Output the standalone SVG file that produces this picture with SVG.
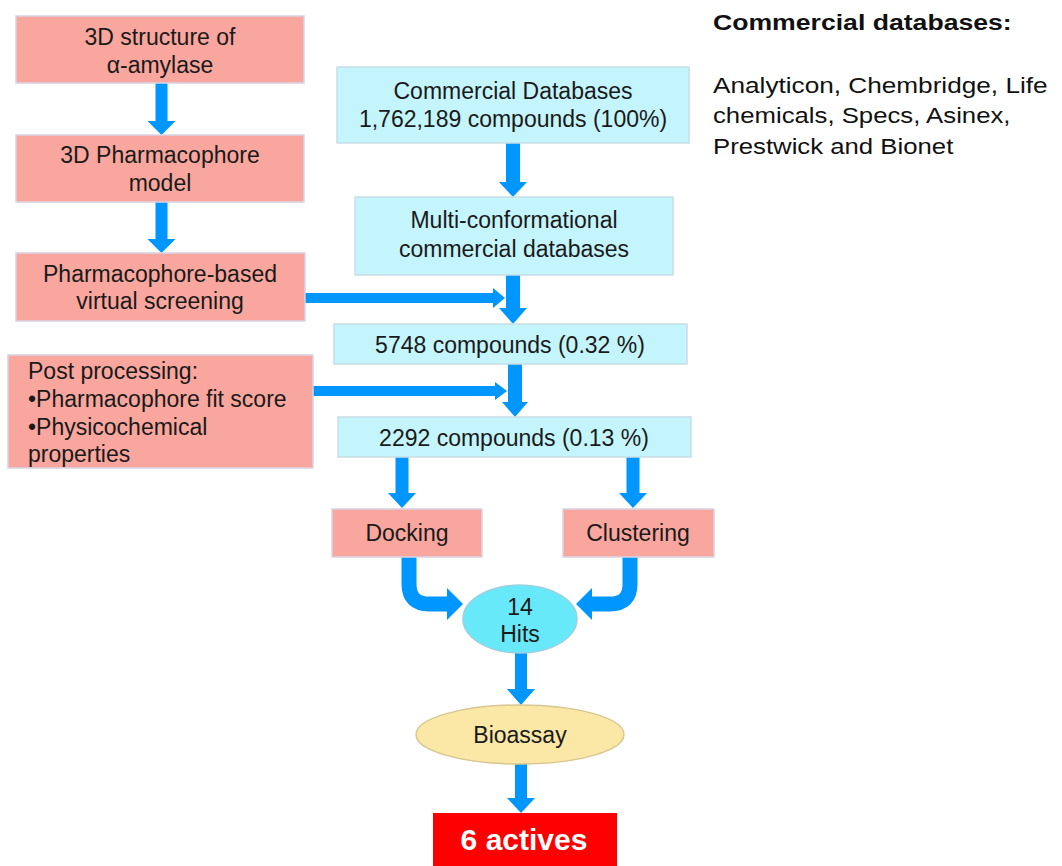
<svg xmlns="http://www.w3.org/2000/svg" width="1062" height="866" viewBox="0 0 1062 866">
<style>
.pink{fill:#F9A69E;stroke:#D8D4E4;stroke-width:1.5}
.blue{fill:#C4F4FC;stroke:#C8DDE6;stroke-width:1.5}
.t{font-family:"Liberation Sans",Arial,sans-serif;font-size:23px;fill:#1a1a1a}
.c{text-anchor:middle}
.arr{fill:#0096FF}
.curve{fill:none;stroke:#0096FF;stroke-width:15}
.lg{font-family:"Liberation Sans",Arial,sans-serif;font-size:22px;fill:#111}
</style>
<rect width="1062" height="866" fill="#ffffff"/>
<g id="connectors">
<polygon class="arr" points="155.5,83 167.5,83 167.5,121 175.5,121 161.5,135 147.5,121 155.5,121"/>
<polygon class="arr" points="155.5,202 167.5,202 167.5,239 175.5,239 161.5,253 147.5,239 155.5,239"/>
<polygon class="arr" points="506,143 520,143 520,182 527,182 513,197 499,182 506,182"/>
<polygon class="arr" points="506,275 520,275 520,308 527,308 513,324 499,308 506,308"/>
<polygon class="arr" points="305,293 493,293 493,288 505,298 493,308 493,303 305,303"/>
<polygon class="arr" points="508,364 522,364 522,402 528,402 515,417 502,402 508,402"/>
<polygon class="arr" points="313,386 495,386 495,382 507,391 495,400 495,396 313,396"/>
<polygon class="arr" points="395.5,457 408.5,457 408.5,493 416,493 402,508 388,493 395.5,493"/>
<polygon class="arr" points="626.5,457 639.5,457 639.5,493 647,493 633,508 619,493 626.5,493"/>
<path class="curve" d="M409,557 V584 Q409,604 429,604 H449"/>
<polygon class="arr" points="447,588 463,604 447,620"/>
<path class="curve" d="M630,557 V584 Q630,604 610,604 H590"/>
<polygon class="arr" points="592,588 576,604 592,620"/>
<polygon class="arr" points="515,653 527,653 527,689 535,689 521,705 507,689 515,689"/>
<polygon class="arr" points="515,764 527,764 527,798 535,798 521,813 507,798 515,798"/>
</g>
<g id="n-structure">
<rect class="pink" x="16" y="16" width="288" height="67"/>
<text class="t c" x="160" y="45">3D structure of</text>
<text class="t c" x="160" y="73">α-amylase</text>
</g>
<g id="n-pharmacophore">
<rect class="pink" x="16" y="135" width="288" height="67"/>
<text class="t c" x="160" y="163">3D Pharmacophore</text>
<text class="t c" x="160" y="191">model</text>
</g>
<g id="n-screening">
<rect class="pink" x="16" y="253" width="289" height="68"/>
<text class="t c" x="160" y="282">Pharmacophore-based</text>
<text class="t c" x="160" y="309">virtual screening</text>
</g>
<g id="n-commercial">
<rect class="blue" x="337" y="67" width="352" height="76"/>
<text class="t c" x="513" y="99">Commercial Databases</text>
<text class="t c" x="513" y="127">1,762,189 compounds (100%)</text>
</g>
<g id="n-multi">
<rect class="blue" x="355" y="197" width="318" height="78"/>
<text class="t c" x="514" y="228">Multi-conformational</text>
<text class="t c" x="514" y="257">commercial databases</text>
</g>
<g id="n-5748">
<rect class="blue" x="334" y="324" width="353" height="40"/>
<text class="t c" x="510" y="353">5748 compounds (0.32 %)</text>
</g>
<g id="n-post">
<rect class="pink" x="8" y="355" width="305" height="113"/>
<text class="t" x="28" y="379">Post processing:</text>
<text class="t" x="28" y="407">•Pharmacophore fit score</text>
<text class="t" x="28" y="435">•Physicochemical</text>
<text class="t" x="28" y="462">properties</text>
</g>
<g id="n-2292">
<rect class="blue" x="338" y="417" width="353" height="40"/>
<text class="t c" x="514" y="446">2292 compounds (0.13 %)</text>
</g>
<g id="n-docking">
<rect class="pink" x="332" y="509" width="150" height="48"/>
<text class="t c" x="407" y="541">Docking</text>
</g>
<g id="n-clustering">
<rect class="pink" x="563" y="509" width="151" height="48"/>
<text class="t c" x="638" y="541">Clustering</text>
</g>
<g id="n-hits">
<ellipse cx="520" cy="619" rx="57" ry="34" fill="#68E9F9" stroke="#9CCFE0" stroke-width="1.5"/>
<text class="t c" x="520" y="615">14</text>
<text class="t c" x="520" y="642">Hits</text>
</g>
<g id="n-bioassay">
<ellipse cx="520" cy="734.5" rx="104" ry="29.5" fill="#FBE8A6" stroke="#D8C690" stroke-width="1.5"/>
<text class="t c" x="520" y="743">Bioassay</text>
</g>
<g id="n-actives">
<rect x="433" y="813" width="184" height="60" fill="#FF0000"/>
<text x="524" y="850" text-anchor="middle" font-family="'Liberation Sans',Arial,sans-serif" font-size="30" font-weight="bold" fill="#ffffff">6 actives</text>
</g>
<g id="legend">
<text class="lg" transform="translate(713,30) scale(1.21,1)" font-weight="bold">Commercial databases:</text>
<text class="lg" transform="translate(713,93) scale(1.19,1)">Analyticon, Chembridge, Life</text>
<text class="lg" transform="translate(713,123) scale(1.17,1)">chemicals, Specs, Asinex,</text>
<text class="lg" transform="translate(713,154) scale(1.17,1)">Prestwick and Bionet</text>
</g>
</svg>
